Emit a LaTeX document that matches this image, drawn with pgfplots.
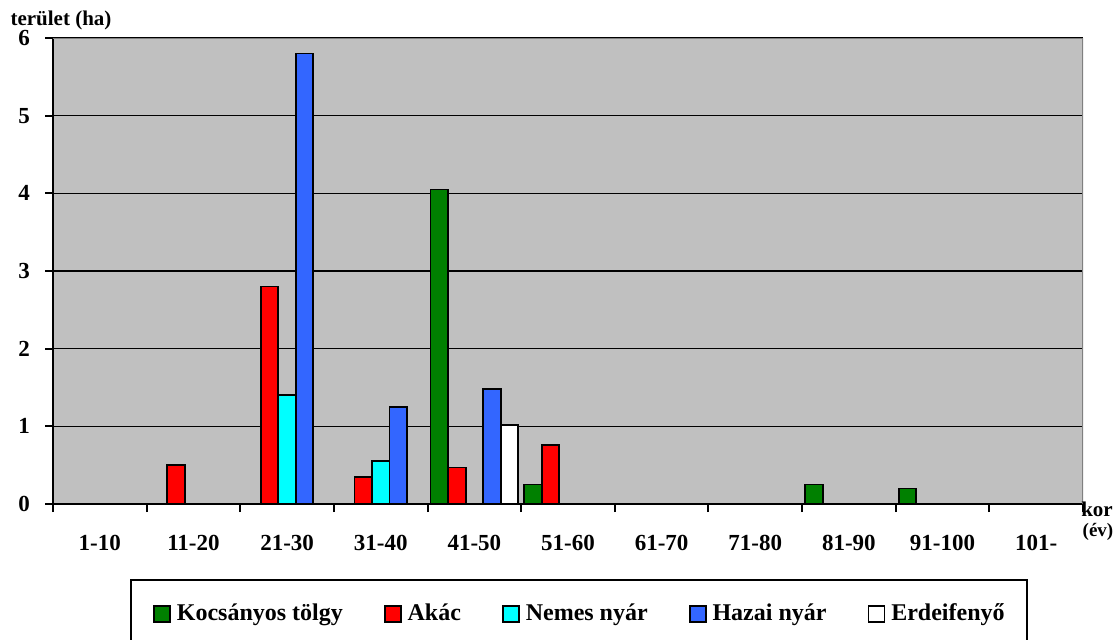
\documentclass[border=0pt]{standalone}
\usepackage{fontspec}
\setmainfont{Liberation Serif}
\usepackage{pgfplots}
\pgfplotsset{compat=1.18}

\definecolor{plotbg}{HTML}{C0C0C0}
\definecolor{frame}{HTML}{808080}
\definecolor{kt}{HTML}{008000}
\definecolor{ak}{HTML}{FF0000}
\definecolor{nny}{HTML}{00FFFF}
\definecolor{hny}{HTML}{3366FF}

\newcommand{\tickfont}{\fontsize{11.5}{13}\selectfont\bfseries}
\newcommand{\legfont}{\fontsize{12}{14}\selectfont\bfseries}
\newcommand{\labfont}{\fontsize{10.5}{12}\selectfont\bfseries}

\pgfplotsset{
  sqlegend/.style={legend image code/.code={
    \draw[##1, line width=0.9pt] (0pt,-4pt) rectangle (8pt,4pt);}},
}

\begin{document}
\begin{tikzpicture}
\begin{axis}[
  at={(0,0)}, anchor=south west,
  scale only axis, width=515pt, height=233pt,
  ybar=0pt, bar width=0.187,
  xmin=-0.5, xmax=10.5, ymin=0, ymax=6,
  axis lines*=left,
  axis line style={line width=1pt, black},
  axis background/.style={fill=plotbg},
  xtick={-0.5,0.5,...,10.5},
  x tick label as interval,
  xticklabels={1-10,11-20,21-30,31-40,41-50,51-60,61-70,71-80,81-90,91-100,101-},
  ytick={0,...,6},
  ymajorgrids, grid style={black, line width=0.8pt},
  tick align=outside,
  major tick length=4pt,
  tick style={black, line width=1pt},
  /pgf/number format/assume math mode=true,
  tick label style={font=\tickfont},
  xticklabel style={yshift=-8pt},
  yticklabel style={xshift=-4pt},
  legend columns=5,
  legend style={at={(0.0748,-0.161)}, anchor=north west, draw=black,
    line width=1pt, font=\legfont, inner xsep=11pt, inner ysep=10pt,
    nodes={inner xsep=0pt, inner ysep=2pt},
    /tikz/every odd column/.append style={column sep=3pt},
    /tikz/every even column/.append style={column sep=20.5pt}},
  every axis plot/.append style={draw=black, line width=0.9pt},
]

% Kocsanyos tolgy
\addplot[fill=kt, sqlegend] coordinates {(4,4.05) (5,0.25) (8,0.25) (9,0.2)};
\addlegendentry{Kocsányos tölgy}
% Akac
\addplot[fill=ak, sqlegend] coordinates {(1,0.5) (2,2.8) (3,0.35) (4,0.47) (5,0.76)};
\addlegendentry{Akác}
% Nemes nyar
\addplot[fill=nny, sqlegend] coordinates {(2,1.4) (3,0.55)};
\addlegendentry{Nemes nyár}
% Hazai nyar
\addplot[fill=hny, sqlegend] coordinates {(2,5.8) (3,1.25) (4,1.48)};
\addlegendentry{Hazai nyár}
% Erdeifenyo
\addplot[fill=white, sqlegend] coordinates {(4,1.02)};
\addlegendentry{Erdeifenyő}

\draw[frame, line width=0.8pt] (rel axis cs:0,1) -- (rel axis cs:1,1) -- (rel axis cs:1,0);
\end{axis}

\node[font=\labfont] at (4pt,242pt) {terület (ha)};
\node[font=\labfont] at (522pt,-2.5pt) {kor};
\node[font=\fontsize{9.5}{11}\selectfont\bfseries] at (522.5pt,-14pt) {(év)};

\pgfresetboundingbox
\path[use as bounding box] (-26.5pt,-67.5pt) rectangle (531pt,252pt);
\end{tikzpicture}
\end{document}
